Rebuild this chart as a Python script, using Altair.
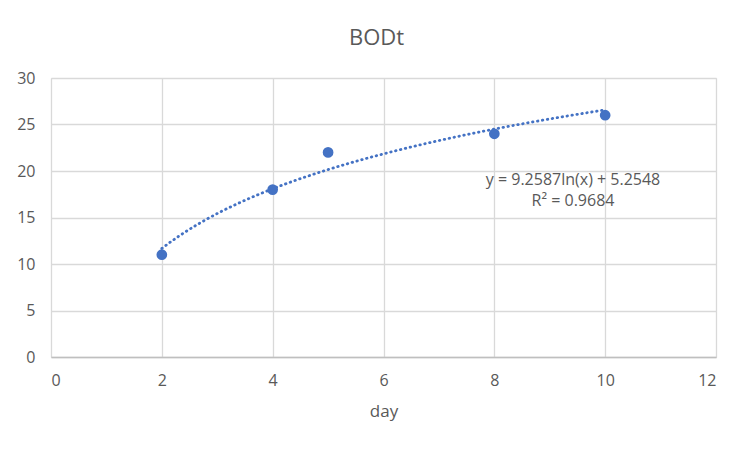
import altair as alt
import pandas as pd

day = [2, 4, 5, 8, 10]
bod = [11, 18, 22, 24, 26]
eq_lines = ["y = 9.2587ln(x) + 5.2548", "R² = 0.9684"]
eq_x = [9.42, 9.42]
eq_y = [19.0, 16.8]

df = pd.DataFrame({"day": day, "bod": bod})
eq = pd.DataFrame({"t": eq_lines, "x": eq_x, "y": eq_y})

FONT = "Open Sans"
BLUE = "#4472C4"
GREY = "#595959"

xscale = alt.Scale(domain=[0, 12], nice=False, zero=True)
yscale = alt.Scale(domain=[0, 30], nice=False)

xax = alt.Axis(values=[0, 2, 4, 6, 8, 10, 12], format="d", grid=True, gridColor="#d9d9d9",
               gridWidth=1.3, domainColor="#bfbfbf", domainWidth=1.5, ticks=False,
               labelPadding=15, labelColor=GREY, labelFont=FONT, labelFontSize=16,
               title="day", titleFont=FONT, titleFontSize=17, titleFontWeight="normal",
               titleColor=GREY, titlePadding=15)
yax = alt.Axis(values=[0, 5, 10, 15, 20, 25, 30], format="d", grid=True, gridColor="#d9d9d9",
               gridWidth=1.3, domain=False, ticks=False, labelPadding=16, labelColor=GREY,
               labelFont=FONT, labelFontSize=16, title=None)

base = alt.Chart(df)

pts = base.mark_circle(size=115, color=BLUE, opacity=1).encode(
    x=alt.X("day:Q", scale=xscale, axis=xax),
    y=alt.Y("bod:Q", scale=yscale, axis=yax),
)

trend = base.transform_regression("day", "bod", method="log", extent=[2, 10]).mark_line(
    color=BLUE, strokeWidth=2.8, strokeDash=[0.5, 4.5], strokeCap="round"
).encode(x=alt.X("day:Q", scale=xscale), y=alt.Y("bod:Q", scale=yscale))

txt = alt.Chart(eq).mark_text(font=FONT, fontSize=16, color=GREY, align="center",
                              baseline="middle").encode(
    x=alt.X("x:Q", scale=xscale), y=alt.Y("y:Q", scale=yscale), text="t:N")

chart = alt.layer(trend, pts, txt).properties(
    width=665, height=279,
    title=alt.Title("BODt", font=FONT, fontSize=22, fontWeight="normal", color=GREY,
                    anchor="middle", offset=20, dx=-7),
    padding={"left": 43, "top": 70, "right": 28, "bottom": 87},
    autosize=alt.AutoSizeParams(type="none"),
).configure_view(stroke=None).configure(background="white")

chart.save("out.html", embed_options={"renderer": "svg", "actions": False})
